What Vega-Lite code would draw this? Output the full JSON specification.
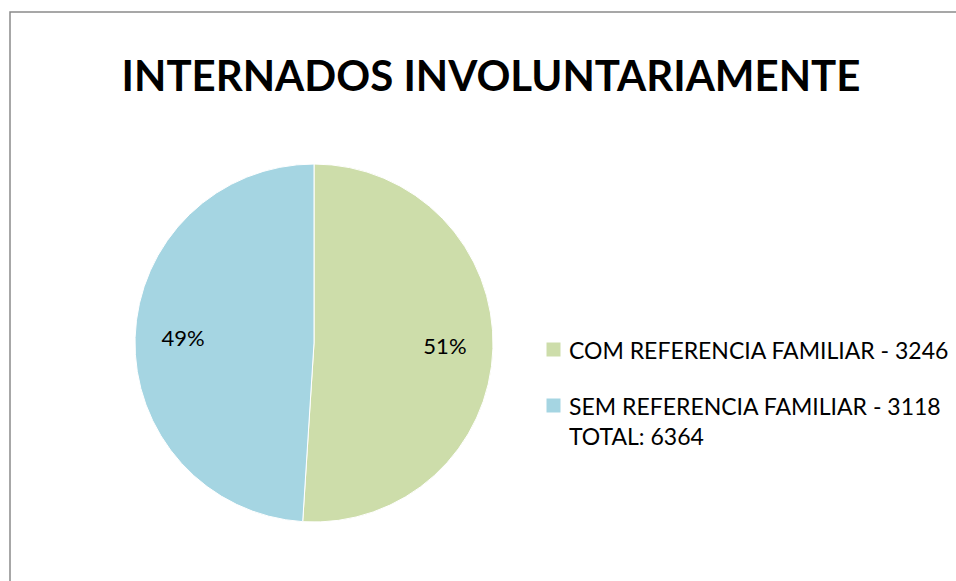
{
  "$schema": "https://vega.github.io/schema/vega-lite/v6.json",
  "width": 950,
  "height": 575,
  "autosize": "none",
  "padding": {"left": 10, "top": 12, "right": 0, "bottom": 0},
  "background": "white",
  "config": {
    "view": {"stroke": "#8a8a8a", "strokeWidth": 1.5},
    "font": "Lato"
  },
  "title": {
    "text": "INTERNADOS INVOLUNTARIAMENTE",
    "font": "Lato",
    "fontSize": 42,
    "fontWeight": "bold",
    "color": "#000000",
    "anchor": "middle",
    "frame": "group",
    "baseline": "alphabetic",
    "offset": 0,
    "dy": 121,
    "dx": 6
  },
  "data": {
    "values": [
      {"cat": "COM REFERENCIA FAMILIAR - 3246", "value": 3246, "pct": "51%"},
      {"cat": "SEM REFERENCIA FAMILIAR - 3118", "value": 3118, "pct": "49%"}
    ]
  },
  "encoding": {
    "theta": {"field": "value", "type": "quantitative", "stack": true},
    "order": {"field": "value", "type": "quantitative", "sort": "descending"},
    "x": {"datum": 0.32, "type": "quantitative", "scale": {"domain": [0, 1]}, "axis": null},
    "y": {"datum": 0.4243, "type": "quantitative", "scale": {"domain": [0, 1]}, "axis": null}
  },
  "layer": [
    {
      "mark": {"type": "arc", "outerRadius": 179, "stroke": "white", "strokeWidth": 1},
      "encoding": {
        "color": {
          "field": "cat",
          "type": "nominal",
          "scale": {"domain": ["COM REFERENCIA FAMILIAR - 3246", "SEM REFERENCIA FAMILIAR - 3118"], "range": ["#CDDDAA", "#A5D5E2"]},
          "legend": {
            "title": null,
            "orient": "none",
            "legendX": 532,
            "legendY": 326,
            "symbolType": "square",
            "symbolSize": 196,
            "symbolStrokeWidth": 0,
            "labelFont": "Lato",
            "labelFontSize": 23,
            "labelColor": "#000000",
            "labelOffset": 4,
            "labelLimit": 500,
            "labelBaseline": "top",
            "rowPadding": 30,
            "padding": 0,
            "labelExpr": "datum.label == 'SEM REFERENCIA FAMILIAR - 3118' ? [datum.label, 'TOTAL: 6364'] : datum.label",
            "encoding": {
              "labels": {"dy": {"value": -9}, "lineHeight": {"value": 30}}
            }
          }
        }
      }
    },
    {
      "mark": {"type": "text", "radius": 131, "font": "Lato", "fontSize": 22, "color": "#000000"},
      "encoding": {
        "text": {"field": "pct", "type": "nominal"}
      }
    }
  ]
}
